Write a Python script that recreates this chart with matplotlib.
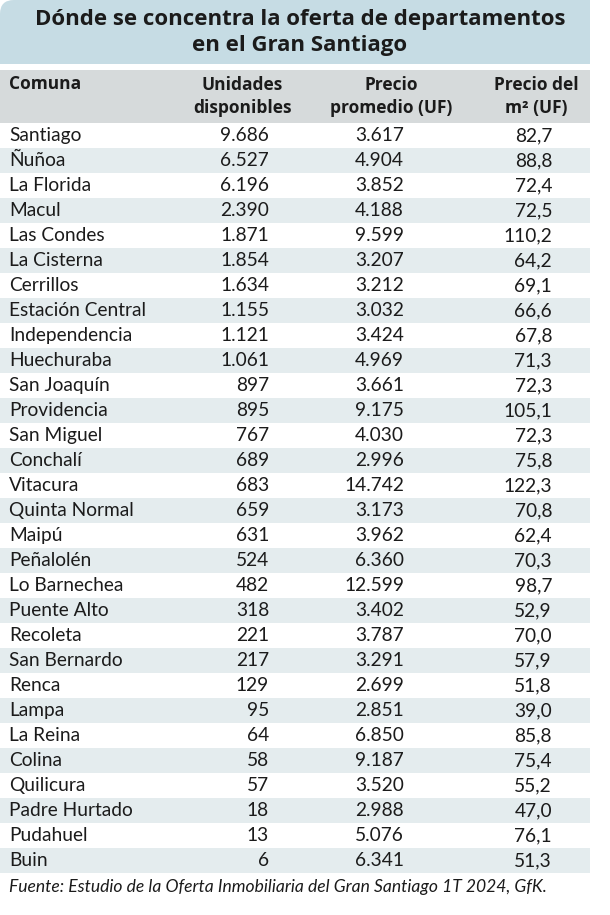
import matplotlib
matplotlib.use("Agg")
import matplotlib.pyplot as plt
from matplotlib.patches import PathPatch, Rectangle
from matplotlib.path import Path

plt.rcParams['font.family'] = ['Lato', 'DejaVu Sans']
BOLD_FONT = ['Open Sans', 'DejaVu Sans']

title = "Dónde se concentra la oferta de departamentos\nen el Gran Santiago"
headers = ["Comuna", "Unidades\ndisponibles", "Precio\npromedio (UF)", "Precio del\nm² (UF)"]
comunas = ["Santiago", "Ñuñoa", "La Florida", "Macul", "Las Condes", "La Cisterna",
           "Cerrillos", "Estación Central", "Independencia", "Huechuraba", "San Joaquín",
           "Providencia", "San Miguel", "Conchalí", "Vitacura", "Quinta Normal", "Maipú",
           "Peñalolén", "Lo Barnechea", "Puente Alto", "Recoleta", "San Bernardo", "Renca",
           "Lampa", "La Reina", "Colina", "Quilicura", "Padre Hurtado", "Pudahuel", "Buin"]
unidades = ["9.686", "6.527", "6.196", "2.390", "1.871", "1.854", "1.634", "1.155", "1.121",
            "1.061", "897", "895", "767", "689", "683", "659", "631", "524", "482", "318",
            "221", "217", "129", "95", "64", "58", "57", "18", "13", "6"]
precio = ["3.617", "4.904", "3.852", "4.188", "9.599", "3.207", "3.212", "3.032", "3.424",
          "4.969", "3.661", "9.175", "4.030", "2.996", "14.742", "3.173", "3.962", "6.360",
          "12.599", "3.402", "3.787", "3.291", "2.699", "2.851", "6.850", "9.187", "3.520",
          "2.988", "5.076", "6.341"]
precio_m2 = ["82,7", "88,8", "72,4", "72,5", "110,2", "64,2", "69,1", "66,6", "67,8", "71,3",
             "72,3", "105,1", "72,3", "75,8", "122,3", "70,8", "62,4", "70,3", "98,7", "52,9",
             "70,0", "57,9", "51,8", "39,0", "85,8", "75,4", "55,2", "47,0", "76,1", "51,3"]
fuente = "Fuente: Estudio de la Oferta Inmobiliaria del Gran Santiago 1T 2024, GfK."

W, H = 610, 915
fig = plt.figure(figsize=(W / 100, H / 100), dpi=100)
ax = fig.add_axes([0, 0, 1, 1])
ax.set_xlim(0, W)
ax.set_ylim(H, 0)
ax.axis("off")

TABLE_R = 590
BLUE = "#c6dce4"
GREY = "#d6dadb"
STRIPE = "#e4ecee"
INK = "#1b1b1b"

# title band with rounded top-left corner
r = 14
verts = [(0, 64), (0, r), (0, 0), (r, 0), (TABLE_R, 0), (TABLE_R, 64), (0, 64)]
codes = [Path.MOVETO, Path.LINETO, Path.CURVE3, Path.CURVE3, Path.LINETO, Path.LINETO, Path.CLOSEPOLY]
ax.add_patch(PathPatch(Path(verts, codes), facecolor=BLUE, edgecolor="none"))
ax.text(300, 32.5, title, ha="center", va="center", fontsize=16, fontweight="bold",
        family=BOLD_FONT, color=INK, linespacing=1.27)

# header band
ax.add_patch(Rectangle((0, 70), TABLE_R, 53, facecolor=GREY, edgecolor="none"))
head_x = [9, 242, 391, 536]
head_ha = ["left", "center", "center", "center"]
for hx, ha, h in zip(head_x, head_ha, headers):
    if ha == "left":
        ax.text(hx, 84, h, ha=ha, va="center", fontsize=12.5, fontweight="bold",
                family=BOLD_FONT, color=INK)
    else:
        ax.text(hx, 96.5, h, ha=ha, va="center", fontsize=12.5, fontweight="bold",
                family=BOLD_FONT, color=INK, linespacing=1.38)

# rows
top = 122.5
rh = 25.0
col_x = [9, 269, 404, 552]
col_ha = ["left", "right", "right", "right"]
for i, row in enumerate(zip(comunas, unidades, precio, precio_m2)):
    y0 = top + i * rh
    if i % 2 == 1:
        ax.add_patch(Rectangle((0, y0), TABLE_R, rh, facecolor=STRIPE, edgecolor="none"))
    for cx, ha, val in zip(col_x, col_ha, row):
        ax.text(cx, y0 + 18.5, val, ha=ha, va="baseline", fontsize=13.8, color=INK)

ax.text(9, 887, fuente, ha="left", va="center", fontsize=12.6, style="italic", color=INK)

fig.savefig("out.png", dpi=100, facecolor="white")
